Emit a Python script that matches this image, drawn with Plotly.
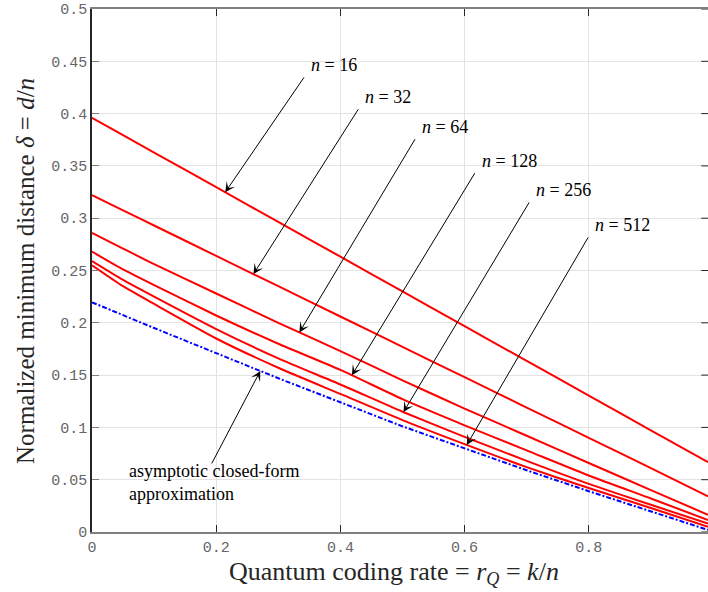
import numpy as np
import plotly.graph_objects as go

# ---- data ----
rate = [0, 0.05, 0.1, 0.2, 0.3, 0.4, 0.5, 0.6, 0.7, 0.8, 0.9, 0.992]
delta_n16  = [0.396, 0.3794, 0.3628, 0.3296, 0.2964, 0.2632, 0.230, 0.1968, 0.1636, 0.1304, 0.0972, 0.0667]
delta_n32  = [0.322, 0.3075, 0.293, 0.264, 0.235, 0.206, 0.177, 0.148, 0.119, 0.090, 0.061, 0.034]
delta_n64  = [0.286, 0.271, 0.256, 0.228, 0.200, 0.173, 0.145, 0.118, 0.092, 0.066, 0.040, 0.0165]
delta_n128 = [0.268, 0.251, 0.236, 0.207, 0.180, 0.155, 0.127, 0.102, 0.078, 0.054, 0.032, 0.0115]
delta_n256 = [0.259, 0.241, 0.225, 0.194, 0.166, 0.141, 0.115, 0.091, 0.068, 0.046, 0.026, 0.008]
delta_n512 = [0.255, 0.235, 0.218, 0.185, 0.157, 0.132, 0.107, 0.084, 0.062, 0.042, 0.023, 0.005]
delta_asym = [0.2196, 0.207, 0.195, 0.171, 0.147, 0.124, 0.101, 0.080, 0.059, 0.039, 0.020, 0.002]

series_names = ["n = 16", "n = 32", "n = 64", "n = 128", "n = 256", "n = 512"]
series_vals = [delta_n16, delta_n32, delta_n64, delta_n128, delta_n256, delta_n512]

xtick_vals = [0, 0.2, 0.4, 0.6, 0.8]
xtick_text = ["0", "0.2", "0.4", "0.6", "0.8"]
ytick_vals = [0, 0.05, 0.1, 0.15, 0.2, 0.25, 0.3, 0.35, 0.4, 0.45, 0.5]
ytick_text = ["0", "0.05", "0.1", "0.15", "0.2", "0.25", "0.3", "0.35", "0.4", "0.45", "0.5"]

# label placement (text left/center, arrow tail, arrow tip x on curve)
label_text_pos = [(0.3494, 0.4465), (0.4364, 0.4159), (0.5282, 0.3872),
                  (0.6248, 0.3547), (0.7118, 0.3270), (0.8068, 0.2935)]
label_tail_pos = [(0.343, 0.436), (0.4304, 0.4056), (0.5217, 0.377),
                  (0.6179, 0.3445), (0.7053, 0.3164), (0.8003, 0.283)]
label_tip_x = [0.2145, 0.26, 0.334, 0.4185, 0.5016, 0.6035]

fig = go.Figure()
for name, vals in zip(series_names, series_vals):
    fig.add_trace(go.Scatter(x=rate, y=vals, mode="lines", name=name,
                             line=dict(color="#ff0000", width=2, shape="spline", smoothing=0.6)))
fig.add_trace(go.Scatter(x=rate, y=delta_asym, mode="lines", name="asymptotic",
                         line=dict(color="#0000ff", width=2, dash="5px,2px,2px,2px")))

serif = "Liberation Serif"
arrow_style = dict(showarrow=True, arrowhead=3, arrowsize=1.7, arrowwidth=1, arrowcolor="black")
annotations = []
for name, (tx, ty), (ax, ay), tipx, vals in zip(series_names, label_text_pos,
                                               label_tail_pos, label_tip_x, series_vals):
    tipy = float(np.interp(tipx, rate, vals))
    annotations.append(dict(x=tipx, y=tipy, ax=ax, ay=ay, xref="x", yref="y",
                            axref="x", ayref="y", text="", **arrow_style))
    annotations.append(dict(x=tx, y=ty, xref="x", yref="y", showarrow=False,
                            xanchor="left", yanchor="middle",
                            text="<i>n</i> = " + name.split("= ")[1],
                            font=dict(family=serif, size=18, color="black")))

asym_tip_x = 0.271
asym_tip_y = float(np.interp(asym_tip_x, rate, delta_asym))
annotations.append(dict(x=asym_tip_x, y=asym_tip_y, ax=0.1916, ay=0.0641, xref="x", yref="y",
                        axref="x", ayref="y", text="", **arrow_style))
annotations.append(dict(x=0.0564, y=0.0478, xref="x", yref="y", showarrow=False,
                        xanchor="left", yanchor="middle", align="left",
                        text="asymptotic closed-form<br>approximation",
                        font=dict(family=serif, size=18, color="black")))

# axis titles
annotations.append(dict(x=0.49, y=-0.079, xref="paper", yref="paper", showarrow=False,
                        xanchor="center", yanchor="middle",
                        text="Quantum coding rate = <i>r</i><sub><i>Q</i></sub> = <i>k</i>/<i>n</i>",
                        font=dict(family=serif, size=26, color="#262626")))
annotations.append(dict(x=-0.108, y=0.5, xref="paper", yref="paper", showarrow=False,
                        xanchor="center", yanchor="middle", textangle=-90,
                        text="Normalized minimum distance <i>δ</i> = <i>d</i>/<i>n</i>",
                        font=dict(family=serif, size=25, color="#262626")))

# right-edge tick marks (box)
shapes = []
for yv in ytick_vals:
    shapes.append(dict(type="line", xref="paper", yref="y", x0=1, x1=0.989, y0=yv, y1=yv,
                       line=dict(color="#262626", width=1)))

fig.update_layout(
    width=708, height=592,
    margin=dict(l=92, r=0, t=9, b=60),
    plot_bgcolor="white", paper_bgcolor="white",
    showlegend=False,
    annotations=annotations,
    shapes=shapes,
    xaxis=dict(range=[0, 0.992], tickvals=xtick_vals, ticktext=xtick_text,
               showgrid=True, gridcolor="#e3e3e3", gridwidth=1,
               zeroline=False, showline=True, linecolor="#808080", linewidth=2,
               mirror="ticks", ticks="inside", ticklen=7, tickcolor="#262626",
               tickfont=dict(family="Liberation Mono", size=15, color="#666666")),
    yaxis=dict(range=[0, 0.5], tickvals=ytick_vals, ticktext=ytick_text,
               showgrid=True, gridcolor="#e3e3e3", gridwidth=1,
               zeroline=False, showline=True, linecolor="#262626", linewidth=1.5,
               ticks="inside", ticklen=7, tickcolor="#808080",
               tickfont=dict(family="Liberation Mono", size=15, color="#666666")),
)

fig.write_html("out.html")
